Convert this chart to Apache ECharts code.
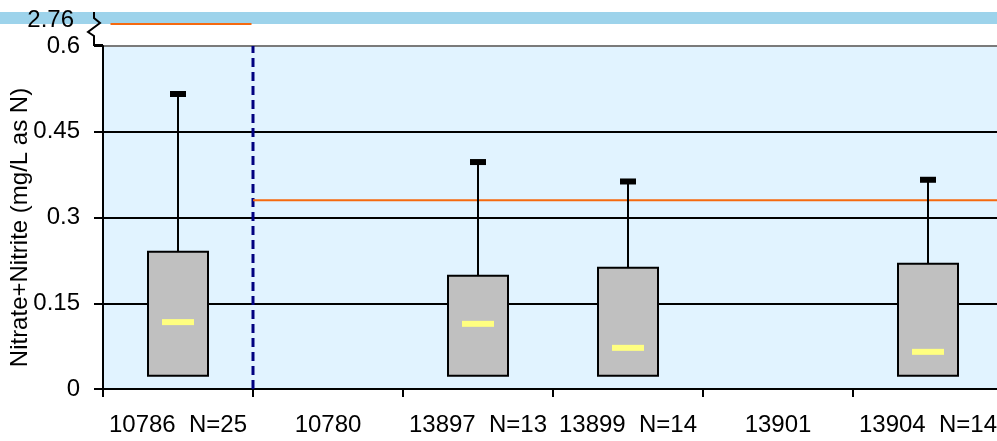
<!DOCTYPE html>
<html>
<head>
<meta charset="utf-8">
<script src="https://cdn.jsdelivr.net/npm/echarts@6/dist/echarts.min.js"></script>
<style>html,body{margin:0;padding:0;background:#fff;}#c{width:997px;height:441px;}</style>
</head>
<body>
<div id="c"></div>
<script>
// ---- data ----
const categories = ['10786  N=25', '10780', '13897  N=13', '13899  N=14', '13901', '13904  N=14'];
const boxStation = [0, 2, 3, 5];
const whiskerLow = [0.023, 0.023, 0.023, 0.023];
const q1 = [0.023, 0.023, 0.023, 0.023];
const median = [0.117, 0.114, 0.072, 0.065];
const q3 = [0.240, 0.198, 0.212, 0.219];
const whiskerHigh = [0.516, 0.397, 0.363, 0.366];
const yTicks = [0, 0.15, 0.3, 0.45, 0.6];
const brokenTick = [2.76];
const standardOld = 2.76;   // applies before the split
const standardNew = 0.33;   // applies after the split
const splitAt = 1;          // boundary index between first and second station
const oldStdSpan = [0.05, 0.99];
const yName = 'Nitrate+Nitrite (mg/L as N)';

const FONT = 'Liberation Sans, Arial, sans-serif';
const FS = 24;
const boxData = boxStation.map((s, i) => [s, whiskerLow[i], q1[i], median[i], q3[i], whiskerHigh[i]]);

const chart = echarts.init(document.getElementById('c'), null, {renderer: 'canvas'});

function renderBox(params, api) {
  const x = api.value(0);
  const pLow = api.coord([x, api.value(1)]);
  const pQ1 = api.coord([x, api.value(2)]);
  const pMed = api.coord([x, api.value(3)]);
  const pQ3 = api.coord([x, api.value(4)]);
  const pHigh = api.coord([x, api.value(5)]);
  const cx = pQ1[0];
  const bw = 60, capW = 16, capH = 6, medW = 32, medH = 6;
  return {
    type: 'group',
    children: [
      {type: 'line', shape: {x1: cx, y1: pQ3[1], x2: cx, y2: pHigh[1]}, style: {stroke: '#000', lineWidth: 2}},
      {type: 'line', shape: {x1: cx, y1: pQ1[1], x2: cx, y2: pLow[1]}, style: {stroke: '#000', lineWidth: 2}},
      {type: 'rect', shape: {x: cx - capW / 2, y: pHigh[1] - capH / 2, width: capW, height: capH}, style: {fill: '#000'}},
      {type: 'rect', shape: {x: cx - bw / 2, y: pQ3[1], width: bw, height: pQ1[1] - pQ3[1]}, style: {fill: '#C0C0C0', stroke: '#000', lineWidth: 2}},
      {type: 'rect', shape: {x: cx - medW / 2, y: pMed[1] - medH / 2, width: medW, height: medH}, style: {fill: '#FFFF80'}}
    ]
  };
}

const noBounds = {containLabel: false, outerBoundsMode: 'none'};

const option = {
  animation: false,
  backgroundColor: '#fff',
  textStyle: {fontFamily: FONT},
  grid: [
    Object.assign({left: 103, top: 46, width: 900, height: 343, show: true, backgroundColor: '#E1F3FF', borderWidth: 0}, noBounds),
    Object.assign({left: 103, top: 12, width: 900, height: 12, show: false}, noBounds),
    Object.assign({left: 103, top: 87, width: 900, height: 281, show: false}, noBounds)
  ],
  xAxis: [
    {
      type: 'category', gridIndex: 0, data: categories, boundaryGap: true,
      axisLine: {lineStyle: {color: '#000', width: 2}},
      axisTick: {show: true, length: 8, lineStyle: {color: '#000', width: 2}},
      axisLabel: {interval: 0, color: '#000', fontSize: FS, fontFamily: FONT, margin: 24, hideOverlap: false},
      splitLine: {show: false}
    },
    {type: 'value', gridIndex: 0, min: 0, max: 6, show: false},
    {type: 'value', gridIndex: 1, min: 0, max: 6, show: false},
    {type: 'value', gridIndex: 2, min: 0, max: 1, show: false}
  ],
  yAxis: [
    {
      type: 'value', gridIndex: 0, min: 0, max: 0.6, interval: 0.15,
      axisLine: {show: true, lineStyle: {color: '#000', width: 2}},
      axisTick: {show: true, length: 9, lineStyle: {color: '#000', width: 2}},
      axisLabel: {color: '#000', fontSize: FS, fontFamily: FONT, margin: 23,
        customValues: yTicks, formatter: v => String(+v.toFixed(2))},
      splitLine: {show: true, lineStyle: {color: ['#000', '#000', '#000', '#000', '#7a7a7a'], width: 2}}
    },
    {
      type: 'value', gridIndex: 1, min: 2.76, max: 2.8,
      axisLine: {show: false}, axisTick: {show: false}, splitLine: {show: false},
      axisLabel: {color: '#000', fontSize: FS, fontFamily: FONT, margin: 29,
        customValues: brokenTick, verticalAlign: 'bottom', lineHeight: 8,
        formatter: v => v.toFixed(2)}
    },
    {
      type: 'value', gridIndex: 2, min: 0, max: 1,
      name: yName, nameLocation: 'middle', nameGap: 71,
      nameTextStyle: {color: '#000', fontSize: FS, fontFamily: FONT},
      axisLine: {show: false}, axisTick: {show: false}, axisLabel: {show: false}, splitLine: {show: false}
    }
  ],
  graphic: [
    {type: 'rect', z: -10, silent: true, shape: {x: 0, y: 12, width: 997, height: 12}, style: {fill: '#9DD3EB'}},
    {type: 'polyline', z: 100, silent: true,
      shape: {points: [[94, 12], [94, 18], [100, 23], [88, 32], [94, 36], [94, 45], [103, 45]]},
      style: {stroke: '#000', lineWidth: 2, fill: null}}
  ],
  series: [
    {
      type: 'line', xAxisIndex: 1, yAxisIndex: 0, symbol: 'none', silent: true, z: 3,
      data: [[splitAt, 0], [splitAt, 0.6]],
      lineStyle: {color: '#000080', width: 3, type: [9, 5]}
    },
    {
      type: 'line', xAxisIndex: 1, yAxisIndex: 0, symbol: 'none', silent: true, z: 4,
      data: [[splitAt, standardNew], [6, standardNew]],
      lineStyle: {color: '#F5690F', width: 2}
    },
    {
      type: 'line', xAxisIndex: 2, yAxisIndex: 1, symbol: 'none', silent: true, z: 4,
      data: [[oldStdSpan[0], standardOld], [oldStdSpan[1], standardOld]],
      lineStyle: {color: '#F5690F', width: 2}
    },
    {
      type: 'custom', xAxisIndex: 0, yAxisIndex: 0, z: 5,
      renderItem: renderBox,
      encode: {x: 0, y: [1, 2, 3, 4, 5]},
      data: boxData
    }
  ]
};
chart.setOption(option);
</script>
</body>
</html>
